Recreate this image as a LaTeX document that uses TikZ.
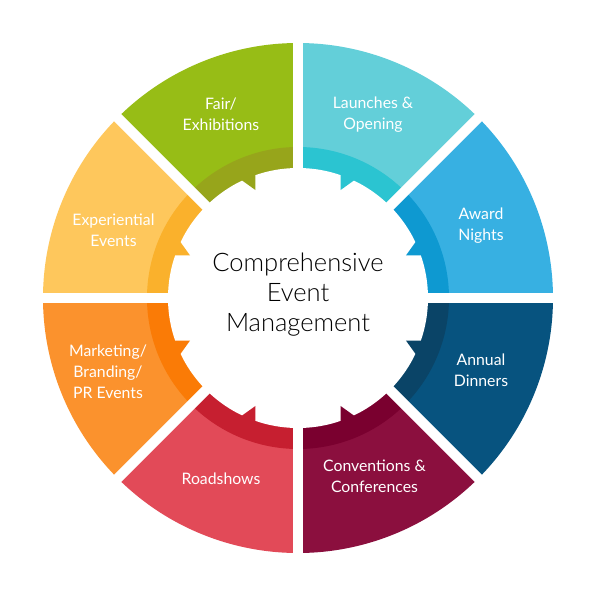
\documentclass[tikz,border=0pt]{standalone}
\usepackage{fontspec}
\setmainfont{Lato}
\newfontfamily\lightfont{Lato Light}
\definecolor{fairO}{HTML}{97BD16}\definecolor{fairB}{HTML}{97A51B}
\definecolor{launO}{HTML}{63CFD9}\definecolor{launB}{HTML}{2BC4D1}
\definecolor{awarO}{HTML}{37B0E2}\definecolor{awarB}{HTML}{0E99D1}
\definecolor{annuO}{HTML}{07537F}\definecolor{annuB}{HTML}{0A4467}
\definecolor{convO}{HTML}{8B0F3E}\definecolor{convB}{HTML}{7A002F}
\definecolor{roadO}{HTML}{E24A58}\definecolor{roadB}{HTML}{C61F30}
\definecolor{markO}{HTML}{FB922D}\definecolor{markB}{HTML}{FA7B06}
\definecolor{expeO}{HTML}{FEC75C}\definecolor{expeB}{HTML}{FAB12C}
\begin{document}
\begin{tikzpicture}[x=1pt,y=1pt,
  lbl/.style={text=white, font=\fontsize{15.8}{21}\selectfont, align=center, inner sep=0pt},
  hub/.style={text=black, font=\lightfont\fontsize{25.5}{30}\selectfont, align=center, inner sep=0pt},
  gapline/.style={white, line width=10pt}]
\useasboundingbox (-298,-297) rectangle (297,298);
\fill[white] (-298,-297) rectangle (297,298);
\foreach \s/\e/\co/\cb in {90/135/fairO/fairB, 45/90/launO/launB, 0/45/awarO/awarB,
   -45/0/annuO/annuB, -90/-45/convO/convB, -135/-90/roadO/roadB,
   180/225/markO/markB, 135/180/expeO/expeB}{
  \fill[\co] (0,0) -- (\s:255) arc[start angle=\s, end angle=\e, radius=255] -- cycle;
  \fill[\cb] (0,0) -- (\s:151) arc[start angle=\s, end angle=\e, radius=151] -- cycle;
}
\fill[white] (0,0) circle[radius=130];
\foreach \A/\sg/\cb in {90/1/fairB, 90/-1/launB, 0/1/awarB, 0/-1/annuB,
   -90/1/convB, -90/-1/roadB, 180/1/markB, 180/-1/expeB}{
  \fill[\cb] ({\A+\sg*21.5}:116) -- ++(\A:20) -- ({\A+\sg*27}:137) -- cycle;
}
\foreach \a in {0,45,...,315}{
  \draw[gapline] (0,0) -- (\a:262);
}
\node[lbl] (fair) at (-77,183.5) {Fair/\\Exhibitions};
\node[lbl] (laun) at (75,183.5) {Launches \&\\Opening};
\node[lbl] (awar) at (183,72.5) {Award\\Nights};
\node[lbl] (annu) at (183,-72.5) {Annual\\Dinners};
\node[lbl] (conv) at (76.5,-178) {Conventions \&\\Conferences};
\node[lbl] (road) at (-77,-181) {Roadshows};
\node[lbl] (mark) at (-190,-73.5) {Marketing/\\Branding/\\PR Events};
\node[lbl] (expe) at (-184.5,68) {Experiential\\Events};
\node[hub] (hubtext) at (0,3) {Comprehensive\\Event\\Management};
\end{tikzpicture}
\end{document}
